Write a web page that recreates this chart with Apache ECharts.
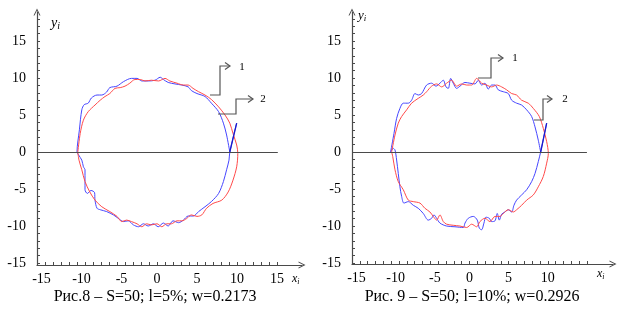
<!DOCTYPE html>
<html>
<head>
<meta charset="utf-8">
<script src="https://cdn.jsdelivr.net/npm/echarts@6/dist/echarts.min.js"></script>
<style>html,body{margin:0;padding:0;background:#fff;}#c{width:622px;height:309px;}</style>
</head>
<body>
<div id="c"></div>
<script>
// ---- data ----
const xTickLabels8 = [-15, -10, -5, 0, 5, 10, 15];
const xTickLabels9 = [-15, -10, -5, 0, 5, 10];
const yTickLabels = [-15, -10, -5, 0, 5, 10, 15];

const captions = ['Рис.8 – S=50; l=5%; w=0.2173', 'Рис. 9 – S=50; l=10%; w=0.2926'];

// Fig. 8 – red curve (1)
const fig8Red = [
  [-9.9,0],[-9.6,2.5],[-9.2,4.3],[-8.6,5.45],[-7.75,6.35],[-7.1,7.0],[-6.5,7.5],[-5.9,7.9],[-5.25,8.6],[-4.6,8.7],
  [-4.0,8.9],[-3.4,9.3],[-2.75,9.8],[-2.1,9.8],[-1.5,9.6],[-0.7,9.7],[0.2,9.6],[1.0,9.95],[1.6,9.6],[2.5,9.3],
  [3.3,9.05],[3.9,9.05],[4.5,8.6],[5.2,8.15],[6.0,7.7],[6.8,7.1],[7.7,6.1],[8.5,5.0],[9.1,3.9],[9.5,2.5],
  [9.96,0.95],[10.1,-0.2],[9.96,-2.0],[9.5,-3.8],[8.9,-5.4],[8.1,-6.5],[7.0,-6.95],[6.2,-7.6],[5.6,-8.5],[5.0,-8.7],
  [4.3,-8.5],[3.7,-9.0],[3.1,-9.3],[2.5,-9.3],[1.8,-9.7],[1.2,-9.7],[0.6,-10.1],[0,-9.7],[-0.7,-9.85],[-1.3,-9.7],
  [-1.9,-10.1],[-2.5,-9.7],[-3.2,-9.4],[-3.8,-9.2],[-4.4,-9.4],[-5.0,-8.7],[-5.9,-8.05],[-6.9,-7.4],[-7.75,-6.5],
  [-8.4,-5.4],[-9.0,-4.0],[-9.4,-2.4],[-9.75,-1.1],[-9.9,0]
];
// Fig. 8 – blue curve (2)
const fig8Blue = [
  [9.96,3.9],[9.1,0],[9.0,-1.1],[8.7,-2.4],[8.3,-4.0],[7.7,-5.6],[6.8,-6.7],[6.0,-7.4],[5.2,-8.05],[4.55,-8.65],
  [3.9,-8.65],[3.3,-9.2],[2.7,-9.55],[2.0,-9.3],[1.4,-10.0],[0.8,-9.6],[0.15,-10.1],[-0.45,-9.7],[-1.1,-10.0],[-1.7,-9.7],
  [-2.3,-10.1],[-2.95,-9.85],[-3.6,-9.3],[-4.2,-9.4],[-4.8,-9.0],[-5.45,-8.5],[-6.3,-8.05],[-7.1,-7.8],[-7.5,-7.6],
  [-7.75,-6.5],[-7.8,-5.5],[-8.25,-5.2],[-8.7,-5.6],[-9.0,-5.1],[-9.0,-4.0],[-9.0,-2.4],[-9.2,-2.0],[-9.4,-1.1],
  [-9.8,-0.4],[-10.0,0],[-9.7,3.0],[-9.4,5.7],[-9.1,6.4],[-8.6,6.6],[-8.2,7.3],[-7.5,7.7],[-6.9,7.7],[-6.3,8.1],
  [-5.9,8.7],[-5.0,8.9],[-4.2,9.5],[-3.2,9.95],[-2.5,9.95],[-1.9,9.6],[-1.1,9.6],[-0.25,9.7],[0.4,10.1],[0.8,9.8],
  [1.4,9.4],[2.25,9.2],[3.1,9.05],[3.9,8.8],[4.3,8.3],[5.0,7.9],[6.0,7.5],[6.8,6.6],[7.7,5.45],[8.3,3.9],
  [8.7,2.3],[9.1,0]
];
// Fig. 9 – red curve (1)
const fig9Red = [
  [-9.94,0],[-9.51,2.3],[-9.09,3.9],[-8.66,4.8],[-8.02,5.7],[-7.39,6.6],[-6.54,7.25],[-5.9,7.7],[-5.47,8.15],[-4.83,8.9],
  [-4.19,9.2],[-3.55,8.8],[-2.92,9.3],[-2.28,9.7],[-1.64,8.9],[-1.0,9.2],[-0.36,9.05],[0.28,9.05],[0.92,9.95],[1.55,9.3],
  [2.19,9.05],[2.83,8.8],[3.47,9.05],[4.11,8.8],[4.75,8.4],[5.39,7.9],[6.02,7.7],[6.66,7.0],[7.51,6.6],[8.15,5.9],
  [8.92,4.8],[9.43,3.2],[9.86,1.4],[10.07,-0.2],[9.86,-1.5],[9.43,-3.3],[8.79,-4.7],[8.15,-5.8],[7.3,-6.5],[6.66,-7.2],
  [6.02,-7.8],[5.6,-8.1],[4.96,-7.8],[4.32,-8.3],[3.9,-8.7],[3.26,-8.7],[2.62,-9.4],[1.98,-8.95],[1.34,-9.4],[0.92,-10.1],
  [0.28,-9.75],[-0.36,-10.2],[-1.21,-10.0],[-2.07,-9.9],[-2.92,-9.75],[-3.34,-9.4],[-3.77,-8.5],[-4.19,-9.2],[-4.62,-8.7],
  [-5.05,-8.1],[-5.69,-7.6],[-6.32,-6.9],[-7.17,-6.7],[-7.81,-6.5],[-8.45,-5.1],[-9.09,-4.0],[-9.51,-2.4],[-9.8,-0.6],[-9.94,0]
];
// Fig. 9 – blue curve (2)
const fig9Blue = [
  [9.86,3.9],[9.09,0],[8.79,-1.3],[8.37,-2.9],[7.94,-4.0],[7.3,-5.1],[6.66,-5.8],[6.02,-6.5],[5.68,-7.2],[5.39,-8.1],
  [4.96,-7.8],[4.53,-8.1],[4.11,-8.4],[3.81,-9.2],[3.55,-8.3],[3.26,-9.3],[2.83,-9.4],[2.53,-8.95],[2.1,-8.8],[1.85,-9.6],
  [1.55,-10.5],[1.26,-10.3],[1.0,-9.2],[0.49,-8.7],[-0.15,-8.95],[-0.57,-9.6],[-0.79,-10.2],[-1.85,-10.1],[-2.92,-10.0],
  [-3.77,-9.6],[-4.19,-8.95],[-4.53,-8.5],[-4.83,-8.95],[-5.26,-9.2],[-5.9,-8.3],[-6.54,-7.6],[-7.17,-7.2],[-7.81,-6.7],
  [-8.37,-6.9],[-8.66,-6.0],[-8.88,-4.7],[-9.09,-2.9],[-9.3,-1.08],[-9.51,0.27],[-9.75,0.5],[-10.07,0],[-9.64,2.5],
  [-9.3,4.55],[-8.88,5.9],[-8.45,6.6],[-7.81,6.6],[-7.39,7.0],[-6.96,7.9],[-6.54,7.7],[-6.11,7.9],[-5.47,9.05],[-4.83,9.3],
  [-4.28,8.9],[-3.77,9.3],[-3.34,9.7],[-3.0,8.8],[-2.7,8.6],[-2.4,9.95],[-2.07,9.3],[-1.64,8.6],[-1.21,8.9],[-0.57,9.4],
  [0.06,9.3],[0.7,9.2],[1.13,9.7],[1.55,9.05],[1.98,9.3],[2.4,8.5],[2.83,9.05],[3.26,9.05],[3.68,8.4],[4.32,8.15],
  [4.96,7.9],[5.39,7.0],[6.02,6.6],[6.66,6.35],[7.3,5.7],[7.94,4.8],[8.37,3.4],[8.79,1.6],[9.09,0]
];

// ---- chart ----
const SERIF = '"Liberation Serif", "Times New Roman", serif';
const AX = '#4a4a4a';
const RED = '#ff4a4a';
const BLUE = '#4646ff';
const DARK = '#1a1acc';
const chevron = 'path://M0,10 L5,0 L10,10 L8.6,10 L5,3 L1.4,10 Z';

function range(a, b) { const r = []; for (let i = a; i <= b; i++) r.push(i); return r; }

function xAxisCfg(gridIndex, max, labels) {
  return {
    type: 'value', gridIndex, min: -15, max,
    axisLine: { show: true, onZero: false, lineStyle: { color: AX, width: 1.2 }, symbol: ['none', chevron], symbolSize: [8, 7] },
    axisTick: { show: true, inside: true, length: 3, customValues: range(-15, 15), lineStyle: { color: AX } },
    axisLabel: { show: true, customValues: labels, margin: 7, color: '#000', fontFamily: SERIF, fontSize: 14,
      formatter: v => (v < 0 ? '{n|' + v + '}' : String(v)),
      rich: { n: { padding: [0, 0, 0, 9], fontFamily: SERIF, fontSize: 14, color: '#000' } } },
    splitLine: { show: false }
  };
}
function yAxisCfg(gridIndex, min) {
  return {
    type: 'value', gridIndex, min, max: 18.92,
    axisLine: { show: true, onZero: false, lineStyle: { color: AX, width: 1.2 }, symbol: ['none', chevron], symbolSize: [8, 7] },
    axisTick: { show: true, inside: true, length: 3, customValues: range(-15, 18), lineStyle: { color: AX } },
    axisLabel: { show: true, customValues: yTickLabels, margin: 11, color: '#000', fontFamily: SERIF, fontSize: 14 },
    splitLine: { show: false }
  };
}
function curve(data, color, xi, width) {
  return { type: 'line', xAxisIndex: xi, yAxisIndex: xi, data, showSymbol: false, symbol: 'none', smooth: 0.3,
    lineStyle: { color, width: width || 1 }, animation: false, silent: true, z: 2 };
}
function zeroLine(xi, x2) {
  return { type: 'line', xAxisIndex: xi, yAxisIndex: xi, data: [], silent: true, z: 5,
    markLine: { silent: true, symbol: ['none', 'none'], label: { show: false }, animation: false,
      lineStyle: { color: AX, type: 'solid', width: 1.2 },
      data: [[{ coord: [-15, 0] }, { coord: [x2, 0] }]] } };
}

function leader(pts, arrowX, arrowY, label, lx, ly) {
  return [
    { type: 'polyline', shape: { points: pts }, style: { stroke: '#555', lineWidth: 1.2, fill: null }, z: 10 },
    { type: 'polyline', shape: { points: [[arrowX - 5, arrowY - 3.5], [arrowX, arrowY], [arrowX - 5, arrowY + 3.5]] },
      style: { stroke: '#555', lineWidth: 1.2, fill: null }, z: 10 },
    { type: 'text', x: lx, y: ly, style: { text: label, font: '11px ' + SERIF, fill: '#000', align: 'center', verticalAlign: 'middle', textAlign: 'center', textVerticalAlign: 'middle' }, z: 10 }
  ];
}
function axisName(main, sub, x, y, size) {
  return { type: 'text', x, y, z: 10, style: {
    text: '{a|' + main + '}{b|' + sub + '}',
    rich: { a: { fontFamily: SERIF, fontStyle: 'italic', fontSize: size, fill: '#000' },
            b: { fontFamily: SERIF, fontStyle: 'italic', fontSize: size - 4, fill: '#000', padding: [6, 0, 0, 0] } } } };
}
function caption(text, x, y) {
  return { type: 'text', x, y, z: 10, style: { text, font: '16px ' + SERIF, fill: '#000',
    align: 'center', verticalAlign: 'middle', textAlign: 'center', textVerticalAlign: 'middle' } };
}

const chart = echarts.init(document.getElementById('c'), null, { renderer: 'canvas' });
chart.setOption({
  animation: false,
  backgroundColor: '#fff',
  grid: [
    { left: 37, top: 12, width: 265, height: 253 },
    { left: 352, top: 12, width: 261, height: 252 }
  ],
  xAxis: [xAxisCfg(0, 18.125, xTickLabels8), xAxisCfg(1, 18.33, xTickLabels9)],
  yAxis: [yAxisCfg(0, -15.27), yAxisCfg(1, -15.13)],
  series: [
    curve(fig8Blue, BLUE, 0),
    curve(fig8Red, RED, 0),
    curve(fig8Blue.slice(0, 2), DARK, 0, 1.3),
    zeroLine(0, 15.1),
    curve(fig9Blue, BLUE, 1),
    curve(fig9Red, RED, 1),
    curve(fig9Blue.slice(0, 2), DARK, 1, 1.3),
    zeroLine(1, 15)
  ],
  graphic: [
    ...leader([[210, 95], [220, 95], [220, 66], [230, 66]], 230, 66, '1', 242, 67),
    ...leader([[218, 114], [236, 114], [236, 99], [253, 99]], 253, 99, '2', 263, 99),
    ...leader([[478, 78], [491, 78], [491, 58], [503, 58]], 503, 58, '1', 515, 58),
    ...leader([[534, 120], [543, 120], [543, 99], [552, 99]], 552, 99, '2', 565, 99),
    axisName('y', 'i', 51, 15, 14),
    axisName('y', 'i', 358, 8, 13),
    axisName('x', 'i', 292, 272, 12),
    axisName('x', 'i', 597, 267, 12),
    caption(captions[0], 155, 297),
    caption(captions[1], 472, 297)
  ]
});
</script>
</body>
</html>
